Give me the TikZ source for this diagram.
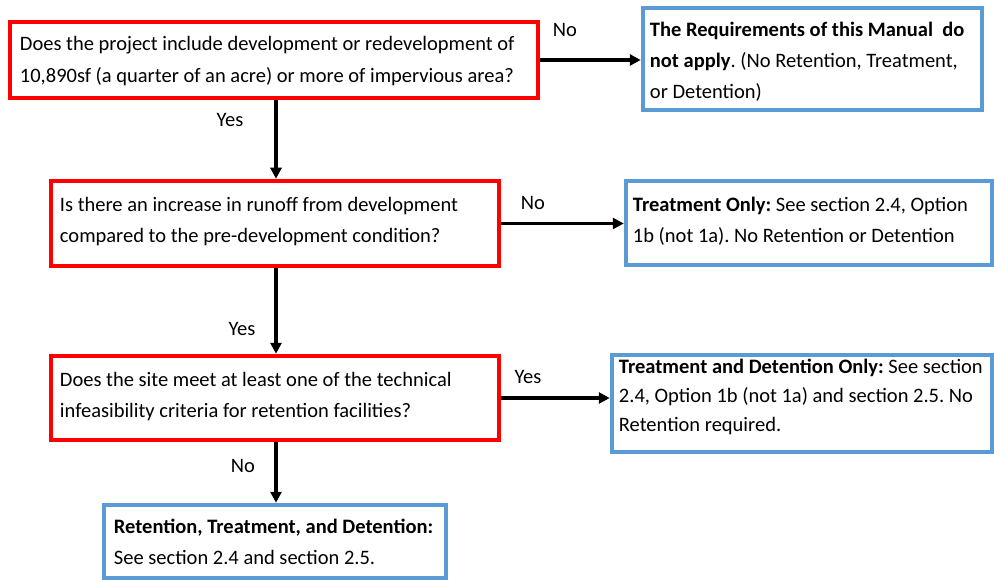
\documentclass[tikz,border=0pt]{standalone}
\usepackage{fontspec}
\setmainfont{Carlito}
\usetikzlibrary{arrows.meta,calc}
\definecolor{qred}{RGB}{255,0,0}
\definecolor{rblue}{RGB}{91,155,213}
\frenchspacing
\begin{document}
\begin{tikzpicture}[x=1pt,y=-1pt,
  qbox/.style={draw=qred,line width=4.5pt,minimum width=#1,inner sep=0pt},
  rbox/.style={draw=rblue,line width=4.5pt,minimum width=#1,inner sep=0pt},
  txt/.style={anchor=west,align=left,inner sep=0pt,font=\fontsize{20.5}{31}\selectfont},
  lbl/.style={font=\fontsize{20.5}{22}\selectfont,inner sep=0pt},
  arr/.style={line width=3.2pt,-{Triangle[length=11pt,width=11pt]}}]
\useasboundingbox (0,0) rectangle (994,580);
% boxes
\node[qbox=528pt,minimum height=76pt] (q1) at (274,60) {};
\node[rbox=339pt,minimum height=102pt] (r1) at (812.5,59) {};
\node[qbox=448pt,minimum height=85pt] (q2) at (275,223.5) {};
\node[rbox=366pt,minimum height=84pt] (r2) at (809,223) {};
\node[qbox=448pt,minimum height=84pt] (q3) at (275,398) {};
\node[rbox=380pt,minimum height=97pt] (r3) at (802,403.5) {};
\node[rbox=342pt,minimum height=73pt] (r4) at (275,541.5) {};
% texts
\node[txt,font=\fontsize{20.5}{32}\selectfont] (t1) at ($(q1.west)+(12,1)$) {Does the project include development or redevelopment of\\10,890sf (a quarter of an acre) or more of impervious area?};
\node[txt] (t2) at ($(r1.west)+(9,3)$) {\textbf{The Requirements of this Manual\ \ do}\\\textbf{not apply}. (No Retention, Treatment,\\or Detention)};
\node[txt] (t3) at ($(q2.west)+(11,-1.5)$) {Is there an increase in runoff from development\\compared to the pre-development condition?};
\node[txt] (t4) at ($(r2.west)+(9,-1.5)$) {\textbf{Treatment Only:} See section 2.4, Option\\1b (not 1a). No Retention or Detention};
\node[txt] (t5) at ($(q3.west)+(11,-1)$) {Does the site meet at least one of the technical\\infeasibility criteria for retention facilities?};
\node[txt,font=\fontsize{20.5}{29}\selectfont] (t6) at ($(r3.west)+(9,-6.5)$) {\textbf{Treatment and Detention Only:} See section\\2.4, Option 1b (not 1a) and section 2.5. No\\Retention required.};
\node[txt] (t7) at ($(r4.west)+(12,0)$) {\textbf{Retention, Treatment, and Detention:}\\See section 2.4 and section 2.5.};
% arrows
\draw[arr] (q1.east) -- (q1.east -| r1.west);
\draw[arr] (q2.east) -- (q2.east -| r2.west);
\draw[arr] (q3.east) -- (q3.east -| r3.west);
\draw[arr] ($(q2.north |- q1.south)+(1,0)$) -- ($(q2.north)+(1,0)$);
\draw[arr] ($(q2.south)+(1,0)$) -- ($(q3.north)+(1,0)$);
\draw[arr] ($(q3.south)+(1,0)$) -- ($(r4.north)+(1,0)$);
% labels
\node[lbl] (l1) at (565,30) {No};
\node[lbl] (l2) at (230,120) {Yes};
\node[lbl] (l3) at (533,203) {No};
\node[lbl] (l4) at (242,329) {Yes};
\node[lbl] (l5) at (528,377) {Yes};
\node[lbl] (l6) at (243,466) {No};
\end{tikzpicture}
\end{document}
